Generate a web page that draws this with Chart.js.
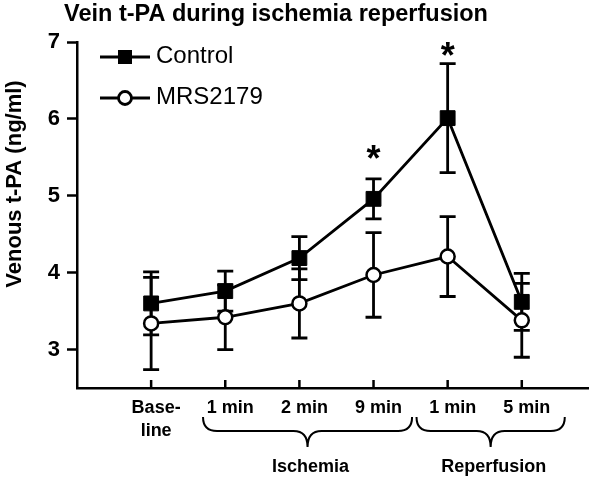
<!DOCTYPE html>
<html lang="en">
<head>
<meta charset="UTF-8">
<title>Vein t-PA during ischemia reperfusion</title>
<script src="https://cdn.jsdelivr.net/npm/chart.js"></script>
<style>
  body { margin: 0; background: #fff; }
  #wrap { width: 600px; height: 477px; }
</style>
</head>
<body>
<div id="wrap"><canvas id="myChart"></canvas></div>
<script>
// values (mean, +/- error)
const timeLabels = [['Base-', 'line'], '1 min', '2 min', '9 min', '1 min', '5 min'];
const controlMean = [3.60, 3.76, 4.19, 4.96, 6.01, 3.62];
const controlErr = [0.41, 0.26, 0.28, 0.26, 0.71, 0.37];
const mrsMean = [3.34, 3.42, 3.60, 3.97, 4.21, 3.38];
const mrsErr = [0.60, 0.42, 0.45, 0.55, 0.52, 0.48];
const yTicks = [3, 4, 5, 6, 7];
const starIndex = [3, 4];
const starY = [5.6, 6.93];
const phases = [
  { label: 'Ischemia', from: 0.7, to: 3.52 },
  { label: 'Reperfusion', from: 3.58, to: 5.58 }
];

const FONT = "'Liberation Sans', Arial, Helvetica, sans-serif";
Chart.defaults.font.family = FONT;
Chart.defaults.color = '#000';

const errorBars = {
  id: 'errorBars',
  beforeDatasetsDraw(chart) {
    const { ctx } = chart;
    const y = chart.scales.y;
    ctx.save();
    ctx.strokeStyle = '#000';
    ctx.lineWidth = 2.8;
    chart.data.datasets.forEach((ds, i) => {
      chart.getDatasetMeta(i).data.forEach((pt, j) => {
        const m = ds.data[j].y, e = ds.err[j];
        const top = y.getPixelForValue(m + e);
        const bot = y.getPixelForValue(m - e);
        ctx.beginPath();
        ctx.moveTo(pt.x, top); ctx.lineTo(pt.x, bot);
        ctx.moveTo(pt.x - 8, top); ctx.lineTo(pt.x + 8, top);
        ctx.moveTo(pt.x - 8, bot); ctx.lineTo(pt.x + 8, bot);
        ctx.stroke();
      });
    });
    ctx.restore();
  }
};

const decorations = {
  id: 'decorations',
  afterDraw(chart) {
    const { ctx, chartArea } = chart;
    const x = chart.scales.x, y = chart.scales.y;
    ctx.save();
    ctx.fillStyle = '#000';
    ctx.strokeStyle = '#000';

    // title
    ctx.font = 'bold 23.5px ' + FONT;
    ctx.textAlign = 'center';
    ctx.textBaseline = 'alphabetic';
    ctx.fillText('Vein t-PA during ischemia reperfusion', 276, 21);

    // y axis title
    ctx.save();
    ctx.translate(15, 184);
    ctx.rotate(-Math.PI / 2);
    ctx.font = 'bold 22px ' + FONT;
    ctx.textBaseline = 'middle';
    ctx.fillText('Venous t-PA (ng/ml)', 0, 0);
    ctx.restore();

    // inward tick marks on x axis
    ctx.lineWidth = 2.5;
    x.ticks.forEach(t => {
      const px = x.getPixelForValue(t.value);
      ctx.beginPath();
      ctx.moveTo(px, chartArea.bottom);
      ctx.lineTo(px, chartArea.bottom - 8);
      ctx.stroke();
    });

    // legend
    chart.data.datasets.forEach((ds, i) => {
      const ry = 57 + i * 41;
      ctx.lineWidth = 2.8;
      ctx.beginPath();
      ctx.moveTo(100, ry); ctx.lineTo(150, ry);
      ctx.stroke();
      if (ds.pointStyle === 'rect') {
        ctx.fillRect(118, ry - 7, 14, 14);
      } else {
        ctx.beginPath();
        ctx.arc(125, ry, 6.5, 0, Math.PI * 2);
        ctx.fillStyle = '#fff';
        ctx.fill();
        ctx.stroke();
        ctx.fillStyle = '#000';
      }
      ctx.font = '24px ' + FONT;
      ctx.textAlign = 'left';
      ctx.textBaseline = 'middle';
      ctx.fillText(ds.label, 156, ry - 1);
    });

    // significance stars
    ctx.font = 'bold 36px ' + FONT;
    ctx.textAlign = 'center';
    ctx.textBaseline = 'alphabetic';
    starIndex.forEach((idx, k) => {
      ctx.fillText('*', x.getPixelForValue(idx), y.getPixelForValue(starY[k]) + 21);
    });

    // phase braces
    ctx.lineWidth = 2;
    phases.forEach(p => {
      const x0 = x.getPixelForValue(p.from), x1 = x.getPixelForValue(p.to);
      const cx = (x0 + x1) / 2, yt = 417, yh = 431, yp = 447;
      ctx.beginPath();
      ctx.moveTo(x0, yt);
      ctx.quadraticCurveTo(x0, yh, x0 + 14, yh);
      ctx.lineTo(cx - 14, yh);
      ctx.quadraticCurveTo(cx, yh, cx, yp);
      ctx.quadraticCurveTo(cx, yh, cx + 14, yh);
      ctx.lineTo(x1 - 14, yh);
      ctx.quadraticCurveTo(x1, yh, x1, yt);
      ctx.stroke();
      ctx.font = 'bold 18px ' + FONT;
      ctx.textAlign = 'center';
      ctx.textBaseline = 'middle';
      ctx.fillText(p.label, cx + 3, 467);
    });
    ctx.restore();
  }
};

const ctx = document.getElementById('myChart');

new Chart(ctx, {
  type: 'line',
  data: {
    datasets: [
      {
        label: 'Control',
        data: controlMean.map((v, i) => ({ x: i, y: v })),
        err: controlErr,
        borderColor: '#000',
        borderWidth: 2.8,
        pointStyle: 'rect',
        pointRadius: 10.5,
        pointBackgroundColor: '#000',
        pointBorderColor: '#000',
        pointBorderWidth: 1
      },
      {
        label: 'MRS2179',
        data: mrsMean.map((v, i) => ({ x: i, y: v })),
        err: mrsErr,
        borderColor: '#000',
        borderWidth: 2.8,
        pointStyle: 'circle',
        pointRadius: 7,
        pointBackgroundColor: '#fff',
        pointBorderColor: '#000',
        pointBorderWidth: 2.5
      }
    ]
  },
  options: {
    responsive: true,
    maintainAspectRatio: false,
    animation: false,
    layout: { padding: { top: 42, right: 7, left: 0, bottom: 0 } },
    plugins: {
      legend: { display: false },
      title: { display: false },
      tooltip: { enabled: false }
    },
    scales: {
      x: {
        type: 'linear',
        min: -1,
        max: 5.9,
        afterBuildTicks: s => { s.ticks = timeLabels.map((_, i) => ({ value: i })); },
        afterFit: s => { s.height = 89; },
        border: { display: true, color: '#000', width: 2.5 },
        grid: { display: false, drawTicks: false },
        ticks: {
          autoSkip: false,
          maxRotation: 0,
          padding: 8,
          labelOffset: 5,
          font: { size: 18, weight: 'bold', lineHeight: 1.3 },
          callback: v => timeLabels[v]
        }
      },
      y: {
        min: 2.5,
        max: 7,
        afterBuildTicks: s => { s.ticks = yTicks.map(v => ({ value: v })); },
        afterFit: s => { s.width = 77; },
        border: { display: true, color: '#000', width: 2.5 },
        grid: {
          drawOnChartArea: false,
          drawTicks: true,
          tickLength: 10,
          tickWidth: 2.5,
          tickColor: '#000'
        },
        ticks: {
          padding: 7,
          font: { size: 22, weight: 'bold' }
        }
      }
    }
  },
  plugins: [errorBars, decorations]
});
</script>
</body>
</html>
